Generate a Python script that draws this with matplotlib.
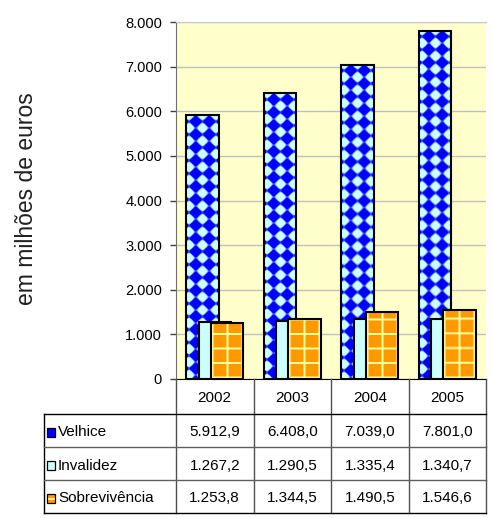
import numpy as np
import matplotlib
matplotlib.use("Agg")
import matplotlib.pyplot as plt
from matplotlib.patches import Rectangle
from matplotlib.lines import Line2D
from matplotlib.ticker import FuncFormatter, FixedLocator

plt.rcParams['font.family'] = ['Liberation Sans', 'DejaVu Sans']

# ---- data (milhões de euros) ----
years = ['2002', '2003', '2004', '2005']
series_names = ['Velhice', 'Invalidez', 'Sobrevivência']
velhice = [5912.9, 6408.0, 7039.0, 7801.0]
invalidez = [1267.2, 1290.5, 1335.4, 1340.7]
sobrevivencia = [1253.8, 1344.5, 1490.5, 1546.6]
y_ticks = [0, 1000, 2000, 3000, 4000, 5000, 6000, 7000, 8000]
y_label = 'em milhões de euros'

# ---- colours ----
BLUE = np.array([0, 0, 255]) / 255
CYAN = np.array([204, 255, 255]) / 255
ORANGE = np.array([255, 153, 0]) / 255
GRIDY = np.array([255, 255, 153]) / 255
PLOT_BG = '#FFFFCC'


def pt_num(v, dec=0):
    s = f"{v:,.{dec}f}"
    return s.replace(',', '#').replace('.', ',').replace('#', '.')


def diamond_texture(w, h, b=13.0, thr=0.08):
    """Blue / light cyan checkerboard turned 45 degrees (diamonds)."""
    yy, xx = np.mgrid[0:h, 0:w] + 0.5
    xx = xx - w / 2.0
    g = 0.5 * (np.cos(2 * np.pi * xx / b) + np.cos(2 * np.pi * yy / b))
    t = np.clip((g - thr) / 0.3 + 0.5, 0, 1)[..., None]
    return BLUE * (1 - t) + CYAN * t


def grid_texture(w, h, period=14.5, first=16.0, lw=2.0, xoff=1.5):
    """Orange fill with a light yellow square grid anchored at the bar base."""
    yy, xx = np.mgrid[0:h, 0:w] + 0.5
    yb = h - yy
    dx = np.abs(((xx - xoff) + period / 2) % period - period / 2)
    dy = np.abs(((yb - first) + period / 2) % period - period / 2)
    t = np.clip(lw / 2 - np.minimum(dx, dy) + 0.5, 0, 1)[..., None]
    return ORANGE * (1 - t) + GRIDY * t


W, H = 493, 518
fig = plt.figure(figsize=(W / 100, H / 100), dpi=100)
ax = fig.add_axes([176 / W, 1 - 379 / H, 310 / W, 357 / H])
ax.set_facecolor(PLOT_BG)
ax.set_xlim(-0.5, len(years) - 0.5)
ax.set_ylim(y_ticks[0], y_ticks[-1])

x = np.arange(len(years))
bw = 0.418
offs = [-0.16, 0.0, 0.16]


def textured_bars(vals, off, z, maker):
    bars = ax.bar(x + off, vals, bw, facecolor='none', edgecolor='black',
                  linewidth=1.5, zorder=z + 0.2)
    for b in bars:
        x0, y0 = b.get_x(), b.get_y()
        x1, y1 = x0 + b.get_width(), y0 + b.get_height()
        p0 = ax.transData.transform((x0, y0))
        p1 = ax.transData.transform((x1, y1))
        w = max(int(round(p1[0] - p0[0])), 1)
        h = max(int(round(p1[1] - p0[1])), 1)
        im = ax.imshow(maker(w, h), extent=(x0, x1, y0, y1), origin='upper',
                       aspect='auto', interpolation='bilinear', zorder=z)
        im.set_clip_path(b)
    return bars


textured_bars(velhice, offs[0], 2, diamond_texture)
ax.bar(x + offs[1], invalidez, bw, facecolor=CYAN, edgecolor='black',
       linewidth=1.5, zorder=3)
textured_bars(sobrevivencia, offs[2], 4, grid_texture)

ax.set_xlim(-0.5, len(years) - 0.5)
ax.set_ylim(y_ticks[0], y_ticks[-1])

ax.yaxis.set_major_locator(FixedLocator(y_ticks))
ax.yaxis.set_major_formatter(FuncFormatter(lambda v, p: pt_num(v)))
ax.set_xticks([])
ax.tick_params(axis='y', direction='out', length=4, width=1, color='#404040',
               labelsize=10.5, pad=6)
ax.yaxis.grid(True, color='#C0C0C0', linewidth=1)
ax.set_axisbelow(True)
ax.spines['right'].set_visible(False)
ax.spines['top'].set_color('#C8C8C8')
ax.spines['left'].set_color('#707070')
ax.spines['bottom'].set_color('black')
ax.spines['bottom'].set_zorder(6)

fig.text(27 / W, 1 - 199 / H, y_label, rotation=90, ha='center', va='center',
         fontsize=16.5, color='#202020')

# ---- data table underneath, in pixel coordinates ----
tb = fig.add_axes([0, 0, 1, 1])
tb.set_xlim(0, W)
tb.set_ylim(H, 0)
tb.set_axis_off()
tb.patch.set_visible(False)

col_edges = [ax.transData.transform((i - 0.5, 0))[0] for i in range(len(years) + 1)]
y_axis = H - ax.transData.transform((0, 0))[1]
header_h = 35
row_h = 33
label_left = 44
row_tops = [y_axis + header_h + k * row_h for k in range(len(series_names) + 1)]
line_c = '#505050'

for xe in col_edges:
    tb.add_line(Line2D([xe, xe], [y_axis, row_tops[-1]], color=line_c, lw=1))
tb.add_line(Line2D([label_left, label_left], [row_tops[0], row_tops[-1]], color='black', lw=1))
for k, yt in enumerate(row_tops):
    c = 'black' if k in (0, len(row_tops) - 1) else '#606060'
    tb.add_line(Line2D([label_left, col_edges[-1]], [yt, yt], color=c, lw=1))

for i, yr in enumerate(years):
    cx = (col_edges[i] + col_edges[i + 1]) / 2
    tb.text(cx, y_axis + header_h / 2 + 1, yr, ha='center', va='center', fontsize=11)

table_rows = [velhice, invalidez, sobrevivencia]
key_faces = [BLUE, CYAN, ORANGE]
for k, (name, vals) in enumerate(zip(series_names, table_rows)):
    cy = (row_tops[k] + row_tops[k + 1]) / 2 + 2
    tb.add_patch(Rectangle((47, cy - 4.5), 8, 9, facecolor=key_faces[k],
                           edgecolor='black', lw=0.9))
    if k == 2:
        tb.add_line(Line2D([48.5, 53.5], [cy, cy], color=GRIDY, lw=1.2))
    tb.text(58, cy, name, ha='left', va='center', fontsize=11)
    for i, v in enumerate(vals):
        cx = (col_edges[i] + col_edges[i + 1]) / 2
        tb.text(cx, cy, pt_num(v, 1), ha='center', va='center', fontsize=11)

fig.savefig('out.png', dpi=100, facecolor='white')
